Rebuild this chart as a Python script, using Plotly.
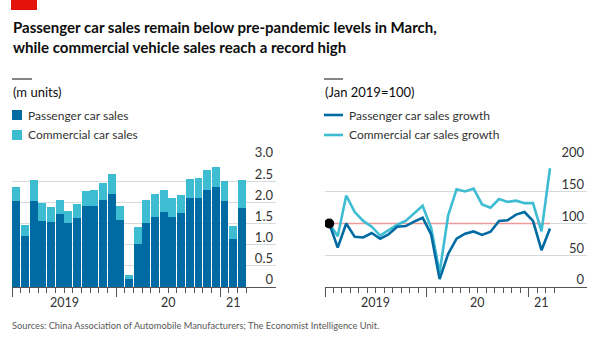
import plotly.graph_objects as go

months = ["Jan 2019","Feb 2019","Mar 2019","Apr 2019","May 2019","Jun 2019","Jul 2019","Aug 2019",
          "Sep 2019","Oct 2019","Nov 2019","Dec 2019","Jan 2020","Feb 2020","Mar 2020","Apr 2020",
          "May 2020","Jun 2020","Jul 2020","Aug 2020","Sep 2020","Oct 2020","Nov 2020","Dec 2020",
          "Jan 2021","Feb 2021","Mar 2021"]
passenger = [2.02,1.20,2.02,1.57,1.54,1.72,1.52,1.64,1.92,1.92,2.05,2.20,1.59,0.20,1.02,1.52,
             1.66,1.76,1.65,1.75,2.09,2.11,2.30,2.37,2.04,1.14,1.87]
total = [2.36,1.46,2.53,1.98,1.90,2.06,1.80,1.95,2.27,2.28,2.46,2.66,1.92,0.28,1.42,2.06,
         2.20,2.29,2.10,2.18,2.56,2.57,2.76,2.83,2.50,1.44,2.53]
commercial = [round(t - p, 2) for t, p in zip(total, passenger)]

pass_growth = [100,62,100,79,78,85,76,83,95,96,103,109,83,12.5,52,76,84,87.5,82,87,104,105,
               114,118,104,58,92]
comm_growth = [100,80,144,118,104,95,81,89,98,104,116,128,93,23,112.5,154,150.5,155,130,125,
               138.5,134,136,132,132,87.5,187]

year_labels = ["2019", "20", "21"]
year_label_pos = [5.5, 17.5, 25]
left_yticks = [0, 0.5, 1.0, 1.5, 2.0, 2.5, 3.0]
left_yticktext = ["0", "0.5", "1.0", "1.5", "2.0", "2.5", "3.0"]
right_yticks = [0, 50, 100, 150, 200]

DARK = "#006BA2"
LIGHT = "#3EBCD2"
GRID = "#D5DADD"
AXIS = "#555555"
TXT = "#333333"
FONT = "Lato"

x = list(range(len(months)))
n = len(months)
major = [-0.5, 11.5, 23.5]
minor = [i - 0.5 for i in range(1, n + 1) if (i - 0.5) not in major]

fig = go.Figure()
fig.add_trace(go.Bar(x=x, y=passenger, marker=dict(color=DARK, line=dict(width=0)),
                     name="Passenger car sales", xaxis="x", yaxis="y", showlegend=False))
fig.add_trace(go.Bar(x=x, y=commercial, marker=dict(color=LIGHT, line=dict(width=0)),
                     name="Commercial car sales", xaxis="x", yaxis="y", showlegend=False))
fig.add_trace(go.Scatter(x=x, y=[100] * n, mode="lines", line=dict(color="#EE9A9A", width=1.5),
                         xaxis="x2", yaxis="y2", showlegend=False, hoverinfo="skip"))
fig.add_trace(go.Scatter(x=x, y=comm_growth, mode="lines", line=dict(color=LIGHT, width=2.6),
                         name="Commercial car sales growth", xaxis="x2", yaxis="y2", showlegend=False))
fig.add_trace(go.Scatter(x=x, y=pass_growth, mode="lines", line=dict(color=DARK, width=2.6),
                         name="Passenger car sales growth", xaxis="x2", yaxis="y2", showlegend=False))
fig.add_trace(go.Scatter(x=[x[0]], y=[pass_growth[0]], mode="markers",
                         marker=dict(color="black", size=10), xaxis="x2", yaxis="y2",
                         showlegend=False))

W, H = 600, 340
def px(v): return v / W
def py(v): return 1 - v / H

ydom = [py(287), py(159.1)]
step_l = 8.67
step_r = 8.49
xaxis_common = dict(showgrid=False, zeroline=False, showline=True, linecolor=AXIS, linewidth=1,
                    tickmode="array", tickvals=major, ticktext=["", "", ""], ticks="outside",
                    ticklen=9, tickcolor=AXIS, tickwidth=1, automargin=False,
                    minor=dict(tickmode="array", tickvals=minor, ticks="outside", ticklen=5,
                               tickcolor=AXIS, tickwidth=1, showgrid=False))
yaxis_common = dict(showgrid=True, gridcolor=GRID, gridwidth=1, zeroline=False, side="right",
                    tickmode="array", ticks="", ticklabelposition="inside top",
                    ticklabeloverflow="allow", automargin=False, ticklabelshift=2,
                    tickfont=dict(family=FONT, size=13, color=TXT), showline=False)

fig.update_layout(
    width=W, height=H, margin=dict(l=0, r=0, t=0, b=0, autoexpand=False),
    paper_bgcolor="white", plot_bgcolor="white", barmode="stack", bargap=0.1,
    xaxis=dict(domain=[px(12), px(276)], range=[-0.5, -0.5 + 264 / step_l], anchor="y",
               **xaxis_common),
    yaxis=dict(domain=ydom, range=[0, 3.02], anchor="x", tickvals=left_yticks,
               ticktext=left_yticktext, **yaxis_common),
    xaxis2=dict(domain=[px(325), px(587)], range=[-0.5, -0.5 + 262 / step_r], anchor="y2",
                **xaxis_common),
    yaxis2=dict(domain=ydom, range=[0, 201.4], anchor="x2", tickvals=right_yticks,
                **yaxis_common),
)

ann = []
ann.append(dict(text="<b>Passenger car sales remain below pre-pandemic levels in March,<br>"
                     "while commercial vehicle sales reach a record high</b>",
                x=px(11), y=py(16), xref="paper", yref="paper", xanchor="left", yanchor="top",
                align="left", showarrow=False, font=dict(family=FONT, size=15, color="#0D0D0D")))
ann.append(dict(text="(m units)", x=px(11), y=py(92), xref="paper", yref="paper",
                xanchor="left", yanchor="middle", showarrow=False,
                font=dict(family=FONT, size=13, color="#0D0D0D")))
ann.append(dict(text="(Jan 2019=100)", x=px(323), y=py(92), xref="paper", yref="paper",
                xanchor="left", yanchor="middle", showarrow=False,
                font=dict(family=FONT, size=13, color="#0D0D0D")))
for t, yy in [("Passenger car sales", 115), ("Commercial car sales", 135)]:
    ann.append(dict(text=t, x=px(26), y=py(yy), xref="paper", yref="paper", xanchor="left",
                    yanchor="middle", showarrow=False, font=dict(family=FONT, size=12, color=TXT)))
for t, yy in [("Passenger car sales growth", 115), ("Commercial car sales growth", 135)]:
    ann.append(dict(text=t, x=px(347), y=py(yy), xref="paper", yref="paper", xanchor="left",
                    yanchor="middle", showarrow=False, font=dict(family=FONT, size=12, color=TXT)))
for xa in ["x", "x2"]:
    for lab, pos in zip(year_labels, year_label_pos):
        ann.append(dict(text=lab, x=pos, y=py(302), xref=xa, yref="paper", xanchor="center",
                        yanchor="middle", showarrow=False,
                        font=dict(family=FONT, size=12.5, color=TXT)))
ann.append(dict(text="Sources: China Association of Automobile Manufacturers; The Economist Intelligence Unit.",
                x=px(10), y=py(325), xref="paper", yref="paper", xanchor="left", yanchor="middle",
                showarrow=False, font=dict(family=FONT, size=9.3, color="#595959")))
fig.update_layout(annotations=ann)

shapes = [
    dict(type="rect", xref="paper", yref="paper", x0=px(11), x1=px(37), y0=py(0), y1=py(10),
         fillcolor="#E3120B", line=dict(width=0)),
    dict(type="line", xref="paper", yref="paper", x0=px(12), x1=px(32), y0=py(79), y1=py(79),
         line=dict(color="#0D0D0D", width=1)),
    dict(type="line", xref="paper", yref="paper", x0=px(324), x1=px(343), y0=py(79), y1=py(79),
         line=dict(color="#0D0D0D", width=1)),
    dict(type="rect", xref="paper", yref="paper", x0=px(12), x1=px(22), y0=py(110), y1=py(120),
         fillcolor=DARK, line=dict(width=0)),
    dict(type="rect", xref="paper", yref="paper", x0=px(12), x1=px(22), y0=py(130), y1=py(140),
         fillcolor=LIGHT, line=dict(width=0)),
    dict(type="line", xref="paper", yref="paper", x0=px(324), x1=px(343), y0=py(115), y1=py(115),
         line=dict(color=DARK, width=2.6)),
    dict(type="line", xref="paper", yref="paper", x0=px(324), x1=px(343), y0=py(135), y1=py(135),
         line=dict(color=LIGHT, width=2.6)),
]
fig.update_layout(shapes=shapes)

fig.write_html("out.html")
